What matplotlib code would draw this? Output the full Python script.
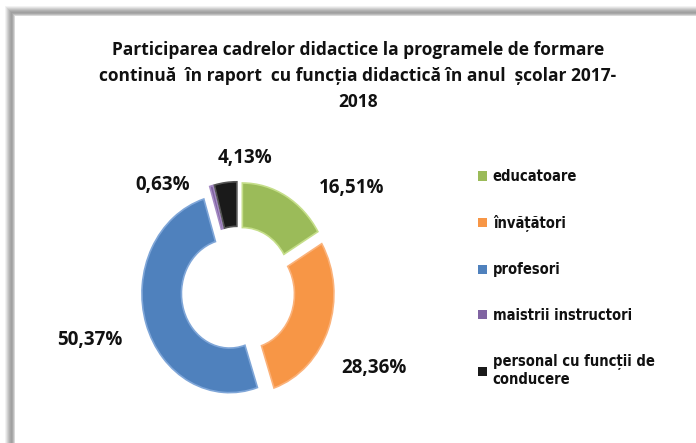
import matplotlib
matplotlib.use("Agg")
import matplotlib.pyplot as plt
from matplotlib.patches import Rectangle

# ---- data ----
categories = ["educatoare", "învățători", "profesori", "maistrii instructori",
              "personal cu funcții de\nconducere"]
values = [16.51, 28.36, 50.37, 0.63, 4.13]
value_labels = ["16,51%", "28,36%", "50,37%", "0,63%", "4,13%"]
title = ("Participarea cadrelor didactice la programele de formare\n"
         "continuă  în raport  cu funcția didactică în anul  școlar 2017-\n2018")

# ---- style ----
colors = ["#9BBB59", "#F79646", "#4F81BD", "#8064A2", "#1A1A1A"]
edge_colors = ["#C5DE8A", "#FBB27A", "#7FA6D8", "#A58BC4", "#555555"]
# label positions in pie units (layout only)
label_pos = [(1.30, 1.04), (1.55, -0.78), (-1.69, -0.50), (-0.86, 1.07), (0.08, 1.34)]

W, H = 696, 443
fig = plt.figure(figsize=(W / 100, H / 100), dpi=100)
fig.patch.set_facecolor("white")

# frame shadow (top & left only visible)
bg = fig.add_axes([0, 0, 1, 1])
bg.set_xlim(0, W)
bg.set_ylim(H, 0)
bg.axis("off")
shades = ["#f2f2f2", "#e3e3e3", "#d2d2d2", "#c2c2c2", "#b3b3b3", "#a8a8a8",
          "#a0a0a0", "#a8a8a8", "#bdbdbd", "#d8d8d8"]
for i, c in enumerate(shades):
    bg.add_patch(Rectangle((5 + i, 6 + i), 1, H, color=c, lw=0))
    bg.add_patch(Rectangle((5 + i, 6 + i), W, 1, color=c, lw=0))

# pie axes: pie units -> pixels, x: 87.7 px/unit, y: 99 px/unit, center (238, 290.6)
cx, cy = 238, 290.6
sx, sy = 87.7, 99.0
xr = (0 - cx) / sx, (W - cx) / sx
yr = (cy - H) / sy, (cy - 0) / sy
ax = fig.add_axes([0, 0, 1, 1])
wedges, _ = ax.pie(values, colors=colors, startangle=90, counterclock=False,
                   explode=[0.1] * len(values), radius=1.0,
                   wedgeprops=dict(width=0.45, linewidth=1.2))
for w, ec in zip(wedges, edge_colors):
    w.set_edgecolor(ec)
ax.set_aspect("auto")
ax.set_xlim(*xr)
ax.set_ylim(*yr)
ax.axis("off")

lab_font = dict(family=["Open Sans", "DejaVu Sans"], fontsize=13.5, fontweight="bold",
                color="#111111", ha="center", va="center")
for (lx, ly), t in zip(label_pos, value_labels):
    ax.text(lx, ly, t, **lab_font)

fig.text(358 / W, 1 - 76 / H, title, ha="center", va="center",
         family=["Open Sans", "DejaVu Sans"], fontsize=12.5, fontweight="bold",
         color="#111111", linespacing=1.55)

# legend
leg_handles = [Rectangle((0, 0), 1, 1, facecolor=c, edgecolor="none") for c in colors]
leg = fig.legend(leg_handles, categories, loc="upper left",
                 bbox_to_anchor=(465 / W, 1 - 156 / H), frameon=False,
                 handlelength=0.6, handleheight=0.6, handletextpad=0.4,
                 labelspacing=2.1,
                 prop=dict(family=["DejaVu Sans"], stretch="condensed",
                           weight="bold", size=10.5))
for t in leg.get_texts():
    t.set_color("#111111")

fig.savefig("out.png", dpi=100, facecolor="white")
